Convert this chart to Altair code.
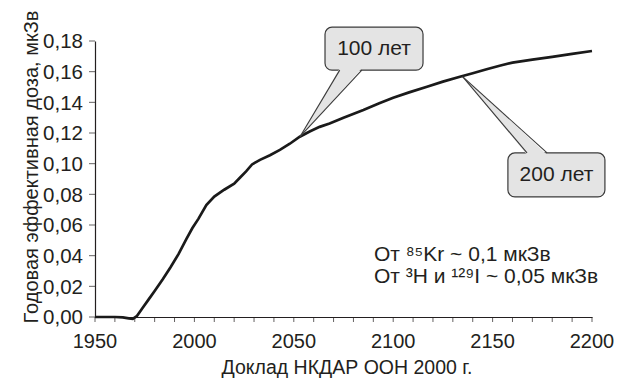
import altair as alt
import pandas as pd

# Annual effective dose curve (year, мкЗв)
years = [1950, 1955, 1960, 1964, 1967, 1969, 1971, 1974, 1977, 1980, 1984, 1988,
         1992, 1996, 1999, 2002, 2006, 2010, 2015, 2020, 2023, 2026, 2029, 2033,
         2038, 2043, 2048, 2053, 2058, 2063, 2068, 2075, 2085, 2093, 2100, 2108,
         2117, 2125, 2134, 2140, 2147, 2154, 2160, 2170, 2180, 2190, 2200]
dose = [0.0000, 0.0000, 0.0000, -0.0002, -0.0009, -0.0012, 0.0005, 0.0060, 0.0115, 0.0170, 0.0245, 0.0325,
        0.0410, 0.0510, 0.0580, 0.0640, 0.0730, 0.0785, 0.0830, 0.0870, 0.0910, 0.0950, 0.0995, 0.1025,
        0.1055, 0.1090, 0.1130, 0.1176, 0.1210, 0.1240, 0.1262, 0.1300, 0.1350, 0.1394, 0.1430, 0.1465,
        0.1502, 0.1535, 0.1568, 0.1590, 0.1616, 0.1640, 0.1659, 0.1678, 0.1697, 0.1716, 0.1735]

# Callout boxes: label, box extent (years / dose), pointer tip on the curve, pointer base on the box
callout_labels = ["100 лет", "200 лет"]
box_x1 = [2065.7, 2157.7]
box_x2 = [2115.0, 2206.5]
box_y1 = [0.1610, 0.0783]
box_y2 = [0.1890, 0.1070]
tip_x = [2053.1, 2134.9]
tip_y = [0.1176, 0.1568]
base_x1 = [2073.1, 2167.3]
base_x2 = [2084.2, 2177.4]
base_y = [0.1610, 0.1070]

note_lines = ["От \u2078\u2075Kr ~ 0,1 мкЗв", "От \u00b3H и \u00b9\u00b2\u2079I ~ 0,05 мкЗв"]
note_x = [2090.3, 2090.3]
note_y = [0.0365, 0.0222]

# Axis ticks and their labels
x_ticks = list(range(1950, 2201, 10))
x_labels = [1950, 2000, 2050, 2100, 2150, 2200]
y_ticks = [0.00, 0.02, 0.04, 0.06, 0.08, 0.10, 0.12, 0.14, 0.16, 0.18]
y_labels = ["0,00", "0,02", "0,04", "0,06", "0,08", "0,10", "0,12", "0,14", "0,16", "0,18"]

FONT = "Liberation Sans"
INK = "#231f20"
BOX_FILL = "#e4e4e4"
BOX_EDGE = "#3a3a3a"
X0, Y0 = 1950, 0.0

x_scale = alt.Scale(domain=[1950, 2200], nice=False)
y_scale = alt.Scale(domain=[0, 0.18], nice=False)

curve_df = pd.DataFrame({"year": years, "dose": dose})


def lerp(x0, y0, x1, y1, x):
    return y0 + (y1 - y0) * (x - x0) / (x1 - x0)


# Pointer wedges as areas (upper/lower edge over x), plus their two outline edges
wedge_rows = []
edge_rows = []
for i, lab in enumerate(callout_labels):
    tx, ty = tip_x[i], tip_y[i]
    ax_, bx_, by = base_x1[i], base_x2[i], base_y[i]
    # push the base slightly inside the box so the box border is hidden there
    inset = 0.0012 if by > ty else -0.0012
    byi = by + inset
    for x in [tx, ax_, bx_]:
        ya = lerp(tx, ty, ax_, byi, x) if x <= ax_ else byi
        yb = lerp(tx, ty, bx_, byi, x)
        wedge_rows.append({"id": lab, "x": x, "lo": min(ya, yb), "hi": max(ya, yb)})
    edge_rows.append({"id": lab + "a", "x": tx, "y": ty, "o": 0})
    edge_rows.append({"id": lab + "a", "x": ax_, "y": by, "o": 1})
    edge_rows.append({"id": lab + "b", "x": tx, "y": ty, "o": 0})
    edge_rows.append({"id": lab + "b", "x": bx_, "y": by, "o": 1})

wedge_df = pd.DataFrame(wedge_rows)
edge_df = pd.DataFrame(edge_rows)
box_df = pd.DataFrame({
    "label": callout_labels, "x1": box_x1, "x2": box_x2, "y1": box_y1, "y2": box_y2,
    "cx": [(a + b) / 2 for a, b in zip(box_x1, box_x2)],
    "cy": [(a + b) / 2 for a, b in zip(box_y1, box_y2)],
})
note_df = pd.DataFrame({"t": note_lines, "x": note_x, "y": note_y})

xt_df = pd.DataFrame({"x": x_ticks, "y": [Y0] * len(x_ticks)})
yt_df = pd.DataFrame({"x": [X0] * len(y_ticks), "y": y_ticks})
xl_df = pd.DataFrame({"x": x_labels, "y": [Y0] * len(x_labels), "t": [str(v) for v in x_labels]})
yl_df = pd.DataFrame({"x": [X0] * len(y_ticks), "y": y_ticks, "t": y_labels})

x_axis = alt.Axis(
    title="Доклад НКДАР ООН 2000 г.",
    labels=False, ticks=False, grid=False, domainColor=INK, domainWidth=1.2,
    titleFont=FONT, titleFontSize=19.5, titleFontWeight="normal", titleColor=INK,
    titleBaseline="alphabetic", titleX=251.5, titleY=56.3,
)
y_axis = alt.Axis(
    title="Годовая эффективная доза, мкЗв",
    labels=False, ticks=False, grid=False, domainColor=INK, domainWidth=1.2,
    titleFont=FONT, titleFontSize=20, titleFontWeight="normal", titleColor=INK,
    titleBaseline="alphabetic", titleX=-57.7, titleY=125.5, titleAngle=270,
)

curve = alt.Chart(curve_df).mark_line(color="#1a1a1a", strokeWidth=2.7, clip=False).encode(
    x=alt.X("year:Q", scale=x_scale, axis=x_axis),
    y=alt.Y("dose:Q", scale=y_scale, axis=y_axis),
)

x_tick_marks = alt.Chart(xt_df).mark_tick(
    orient="vertical", size=5, thickness=1, color=INK, yOffset=2.5, clip=False
).encode(x=alt.X("x:Q", scale=x_scale), y=alt.Y("y:Q", scale=y_scale))

y_tick_marks = alt.Chart(yt_df).mark_tick(
    orient="horizontal", size=6, thickness=1, color=INK, xOffset=-3, clip=False
).encode(x=alt.X("x:Q", scale=x_scale), y=alt.Y("y:Q", scale=y_scale))

x_label_marks = alt.Chart(xl_df).mark_text(
    font=FONT, fontSize=20, color=INK, align="center", baseline="alphabetic", dy=30.5
).encode(x=alt.X("x:Q", scale=x_scale), y=alt.Y("y:Q", scale=y_scale), text="t:N")

y_label_marks = alt.Chart(yl_df).mark_text(
    font=FONT, fontSize=20.5, color=INK, align="right", baseline="alphabetic", dx=-12, dy=7.2
).encode(x=alt.X("x:Q", scale=x_scale), y=alt.Y("y:Q", scale=y_scale), text="t:N")

boxes = alt.Chart(box_df).mark_rect(
    fill=BOX_FILL, stroke=BOX_EDGE, strokeWidth=1.2, cornerRadius=7, clip=False
).encode(
    x=alt.X("x1:Q", scale=x_scale), x2="x2:Q",
    y=alt.Y("y1:Q", scale=y_scale), y2="y2:Q",
)

wedges = alt.Chart(wedge_df).mark_area(fill=BOX_FILL, clip=False).encode(
    x=alt.X("x:Q", scale=x_scale),
    y=alt.Y("lo:Q", scale=y_scale), y2="hi:Q",
    detail="id:N",
)

edges = alt.Chart(edge_df).mark_line(color=BOX_EDGE, strokeWidth=1.1, clip=False).encode(
    x=alt.X("x:Q", scale=x_scale),
    y=alt.Y("y:Q", scale=y_scale),
    detail="id:N", order="o:Q",
)

box_text = alt.Chart(box_df).mark_text(
    font=FONT, fontSize=21, color=INK, align="center", baseline="middle"
).encode(
    x=alt.X("cx:Q", scale=x_scale),
    y=alt.Y("cy:Q", scale=y_scale),
    text="label:N",
)

notes = alt.Chart(note_df).mark_text(
    font=FONT, fontSize=21, color=INK, align="left", baseline="alphabetic"
).encode(
    x=alt.X("x:Q", scale=x_scale),
    y=alt.Y("y:Q", scale=y_scale),
    text="t:N",
)

chart = alt.layer(
    curve, x_tick_marks, y_tick_marks, x_label_marks, y_label_marks,
    boxes, wedges, edges, box_text, notes,
).properties(
    width=497, height=276,
    background="white",
    autosize=alt.AutoSizeParams(type="none"),
    padding={"left": 95, "top": 41, "right": 26, "bottom": 66},
).configure_view(stroke=None)

chart.save("out.html", embed_options={"renderer": "svg", "actions": False})
